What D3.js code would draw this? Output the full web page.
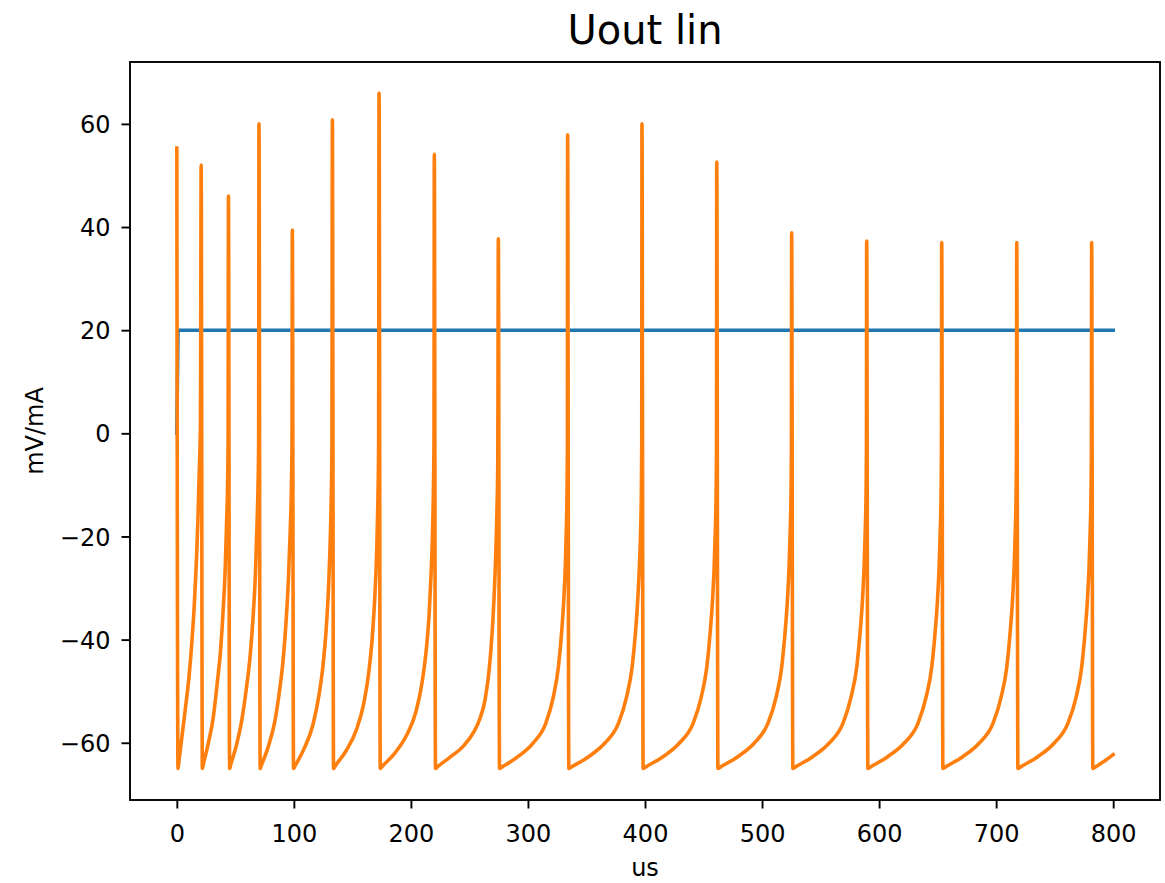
<!DOCTYPE html>
<html>
<head>
<meta charset="utf-8">
<script src="https://cdn.jsdelivr.net/npm/d3@7"></script>
<style>
  body { margin: 0; background: #fff; }
  text { font-family: "DejaVu Sans", sans-serif; }
</style>
</head>
<body>
<div id="container"></div>
<script>
// textes du graphique
const chartTitle = 'Uout lin'
const xLabel = 'us'
const yLabel = 'mV/mA'

// graduations
const xTicks = [0, 100, 200, 300, 400, 500, 600, 700, 800]
const yTicks = [-60, -40, -20, 0, 20, 40, 60]

// courbe bleue : échelon d'entrée
const stepT = [0, 1, 800]
const stepV = [0, 20, 20]

// courbe orange : sortie (t, v)
const uoutPoints = [
  [0, 55.3], [1.0, -65],
  [2.0, -63.2], [4.0, -59.5], [7.5, -53], [10.5, -47], [13.0, -40], [15.0, -33], [16.7, -25], [18.0, -17], [19.1, -8], [20.2, 2], [20.8, 52.0], [21.8, -65],
  [22.8, -64.0], [26.9, -60.1], [31.2, -55], [34.5, -48.5], [37.4, -42], [39.6, -34.3], [41.4, -25.9], [42.5, -17.5], [43.4, -9.7], [43.8, -2], [44.1, 46.0], [45.1, -65],
  [46.1, -64.2], [50.9, -60.5], [55.6, -55.5], [59.4, -49.5], [62.7, -43], [65.2, -35.5], [67.2, -27], [68.4, -18.5], [69.4, -10], [69.9, -2], [70.2, 60.0], [71.2, -65],
  [72.2, -64.4], [78.1, -60.8], [83.6, -56], [87.7, -50], [91.0, -43.5], [93.5, -36], [95.4, -28], [96.8, -19.5], [97.9, -10.5], [98.4, -2], [98.7, 39.4], [99.7, -65],
  [101.0, -64.5], [109.0, -61], [116.3, -56.5], [121.3, -51], [124.9, -45], [127.6, -38], [129.6, -30], [130.9, -22], [131.9, -13], [132.5, -3], [132.9, 60.8], [133.9, -65],
  [135.5, -64.45], [144.8, -61.5], [153.4, -57.5], [159.6, -52.5], [163.9, -46.5], [167.0, -39.5], [169.1, -32], [170.7, -23.5], [171.7, -14], [172.4, -3], [172.8, 66.0], [173.8, -65],
  [175.8, -64.5], [186.3, -62], [196.4, -58.5], [204.3, -54], [209.4, -48.5], [213.1, -42], [215.6, -35], [217.2, -27.5], [218.4, -20], [219.3, -10], [219.7, -2], [220.0, 54.1], [221.0, -65],
  [223.0, -64.6], [233.5, -62.8], [245.0, -60.6], [253.5, -58], [259.0, -55.3], [263.5, -51.5], [267.0, -45.5], [269.3, -39], [271.0, -32], [272.4, -24], [273.5, -15], [274.2, -6], [274.7, 37.7], [275.7, -65],
  [277.7, -64.72], [291.4, -62.7], [304.2, -60.1], [315.3, -56.2], [321.7, -51.1], [326.0, -45.3], [328.7, -38.8], [330.6, -32.3], [331.9, -25.9], [332.7, -19.4], [333.4, -11], [333.7, -3], [333.9, 57.9], [334.9, -65],
  [336.9, -64.72], [351.8, -62.7], [365.5, -60.1], [377.4, -56.2], [384.3, -51.1], [389.0, -45.3], [391.8, -38.8], [393.8, -32.3], [395.2, -25.9], [396.2, -19.4], [396.9, -11], [397.2, -3], [397.4, 60.0], [398.4, -65],
  [400.4, -64.72], [415.4, -62.7], [429.2, -60.1], [441.2, -56.2], [448.1, -51.1], [452.8, -45.3], [455.6, -38.8], [457.7, -32.3], [459.1, -25.9], [460.0, -19.4], [460.8, -11], [461.1, -3], [461.3, 52.6], [462.3, -65],
  [464.3, -64.72], [479.3, -62.7], [493.2, -60.1], [505.1, -56.2], [512.1, -51.1], [516.8, -45.3], [519.6, -38.8], [521.7, -32.3], [523.1, -25.9], [524.0, -19.4], [524.8, -11], [525.1, -3], [525.3, 38.9], [526.3, -65],
  [528.3, -64.72], [543.3, -62.7], [557.2, -60.1], [569.2, -56.2], [576.1, -51.1], [580.9, -45.3], [583.7, -38.8], [585.8, -32.3], [587.2, -25.9], [588.1, -19.4], [588.9, -11], [589.2, -3], [589.4, 37.3], [590.4, -65],
  [592.4, -64.72], [607.4, -62.7], [621.3, -60.1], [633.3, -56.2], [640.2, -51.1], [645.0, -45.3], [647.8, -38.8], [649.9, -32.3], [651.3, -25.9], [652.2, -19.4], [653.0, -11], [653.3, -3], [653.5, 37.0], [654.5, -65],
  [656.5, -64.72], [671.5, -62.7], [685.4, -60.1], [697.4, -56.2], [704.3, -51.1], [709.1, -45.3], [711.9, -38.8], [714.0, -32.3], [715.4, -25.9], [716.3, -19.4], [717.1, -11], [717.4, -3], [717.6, 37.0], [718.6, -65],
  [720.6, -64.72], [735.6, -62.7], [749.5, -60.1], [761.4, -56.2], [768.4, -51.1], [773.1, -45.3], [775.9, -38.8], [778.0, -32.3], [779.4, -25.9], [780.3, -19.4], [781.1, -11], [781.4, -3], [781.6, 37.0], [782.6, -65],
  [784.6, -64.72], [791.0, -63.8], [800.0, -62.3]
]

const stepColor = '#1f77b4'
const uoutColor = '#ff7f0e'


/**
 * formatage des graduations avec le signe moins typographique
 */
function formatTick(d) {
  return d < 0 ? '\u2212' + Math.abs(d) : String(d)
}


/**
 * style commun des axes
 */
function styleAxis(g) {
  g.select('.domain').remove()
  g.selectAll('.tick line')
    .attr('stroke', '#000')
    .attr('stroke-width', 1.9)
  g.selectAll('.tick text')
    .attr('fill', '#000')
    .attr('font-size', '24px')
    .attr('font-family', '"DejaVu Sans", sans-serif')
}


function displayChart() {
  const width = 1165
  const height = 883
  const margin = { top: 62, right: 5, bottom: 83, left: 130 }

  const svg = d3.select('#container').append('svg')
    .attr('width', width)
    .attr('height', height)

  svg.append('rect')
    .attr('width', width)
    .attr('height', height)
    .attr('fill', '#fff')

  const x = d3.scaleLinear()
    .domain([-40, 840])
    .range([margin.left, width - margin.right])

  const y = d3.scaleLinear()
    .domain([-71.1, 72.0])
    .range([height - margin.bottom, margin.top])

  // zone de tracé
  svg.append('clipPath')
    .attr('id', 'plotArea')
    .append('rect')
    .attr('x', margin.left)
    .attr('y', margin.top)
    .attr('width', width - margin.left - margin.right)
    .attr('height', height - margin.top - margin.bottom)

  const plot = svg.append('g').attr('clip-path', 'url(#plotArea)')

  // échelon bleu
  const stepLine = d3.line()
    .x((d, i) => x(stepT[i]))
    .y(d => y(d))
  plot.append('path')
    .datum(stepV)
    .attr('d', stepLine)
    .attr('fill', 'none')
    .attr('stroke', stepColor)
    .attr('stroke-width', 3.6)
    .attr('stroke-linejoin', 'round')
    .attr('stroke-linecap', 'square')

  // sortie orange
  const uoutLine = d3.line()
    .x(d => x(d[0]))
    .y(d => y(d[1]))
    .curve(d3.curveMonotoneX)
  plot.append('path')
    .datum(uoutPoints)
    .attr('d', uoutLine)
    .attr('fill', 'none')
    .attr('stroke', uoutColor)
    .attr('stroke-width', 3.6)
    .attr('stroke-linejoin', 'round')
    .attr('stroke-linecap', 'square')

  // axe des abscisses
  svg.append('g')
    .attr('transform', `translate(0,${height - margin.bottom})`)
    .call(d3.axisBottom(x).tickValues(xTicks).tickFormat(formatTick).tickSize(8.5).tickPadding(16))
    .call(styleAxis)

  // axe des ordonnées
  svg.append('g')
    .attr('transform', `translate(${margin.left},0)`)
    .call(d3.axisLeft(y).tickValues(yTicks).tickFormat(formatTick).tickSize(8.5).tickPadding(11))
    .call(styleAxis)
    .call(g => g.selectAll('.tick text').attr('dy', '0.36em'))

  // cadre
  svg.append('rect')
    .attr('x', margin.left)
    .attr('y', margin.top)
    .attr('width', width - margin.left - margin.right)
    .attr('height', height - margin.top - margin.bottom)
    .attr('fill', 'none')
    .attr('stroke', '#000')
    .attr('stroke-width', 1.9)

  // titre
  svg.append('text')
    .attr('x', (margin.left + width - margin.right) / 2)
    .attr('y', 44)
    .attr('text-anchor', 'middle')
    .attr('font-size', '40px')
    .attr('fill', '#000')
    .text(chartTitle)

  // libellés des axes
  svg.append('text')
    .attr('x', (margin.left + width - margin.right) / 2)
    .attr('y', 876)
    .attr('text-anchor', 'middle')
    .attr('font-size', '24px')
    .attr('fill', '#000')
    .text(xLabel)

  svg.append('text')
    .attr('transform', `translate(43,${(margin.top + height - margin.bottom) / 2}) rotate(-90)`)
    .attr('text-anchor', 'middle')
    .attr('font-size', '24px')
    .attr('fill', '#000')
    .text(yLabel)
}

displayChart()
</script>
</body>
</html>
